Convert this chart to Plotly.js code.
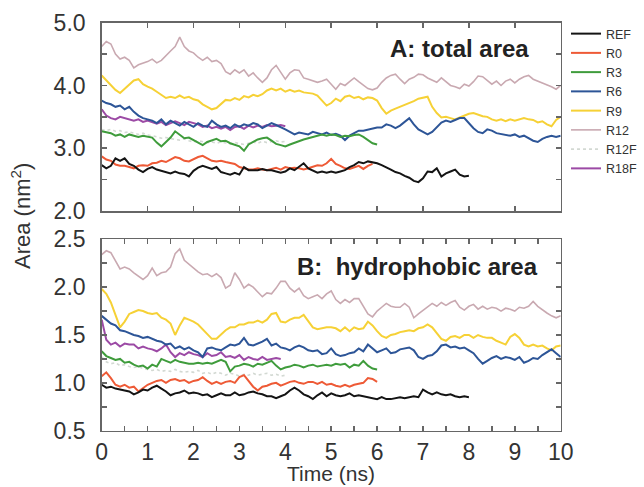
<!DOCTYPE html>
<html>
<head>
<meta charset="utf-8">
<script src="https://cdn.plot.ly/plotly-3.0.1.min.js"></script>
<style>html,body{margin:0;padding:0;background:#fff;}#chart{width:644px;height:487px;}</style>
</head>
<body>
<div id="chart"></div>
<script>
// Shared time grid (ns)
const time = [0.0,0.1,0.2,0.3,0.4,0.5,0.6,0.7,0.8,0.9,1.0,1.1,1.2,1.3,1.4,1.5,1.6,1.7,1.8,1.9,2.0,2.1,2.2,2.3,2.4,2.5,2.6,2.7,2.8,2.9,3.0,3.1,3.2,3.3,3.4,3.5,3.6,3.7,3.8,3.9,4.0,4.1,4.2,4.3,4.4,4.5,4.6,4.7,4.8,4.9,5.0,5.1,5.2,5.3,5.4,5.5,5.6,5.7,5.8,5.9,6.0,6.1,6.2,6.3,6.4,6.5,6.6,6.7,6.8,6.9,7.0,7.1,7.2,7.3,7.4,7.5,7.6,7.7,7.8,7.9,8.0,8.1,8.2,8.3,8.4,8.5,8.6,8.7,8.8,8.9,9.0,9.1,9.2,9.3,9.4,9.5,9.6,9.7,9.8,9.9,10.0];

const seriesNames = ["REF","R0","R3","R6","R9","R12","R12F","R18F"];

// Panel A: total area (nm^2)
const totalREF = [2.73,2.68,2.72,2.84,2.80,2.84,2.75,2.72,2.66,2.62,2.67,2.70,2.66,2.64,2.62,2.60,2.63,2.60,2.59,2.55,2.64,2.69,2.72,2.69,2.67,2.70,2.62,2.60,2.58,2.61,2.58,2.70,2.65,2.65,2.65,2.67,2.65,2.65,2.63,2.61,2.63,2.68,2.65,2.70,2.76,2.68,2.64,2.61,2.63,2.61,2.63,2.61,2.63,2.65,2.70,2.73,2.78,2.76,2.79,2.78,2.76,2.73,2.70,2.66,2.62,2.60,2.56,2.53,2.48,2.46,2.52,2.63,2.62,2.68,2.55,2.60,2.63,2.66,2.58,2.55,2.56];
const totalR0 = [2.87,2.82,2.80,2.74,2.72,2.72,2.70,2.68,2.72,2.73,2.72,2.76,2.77,2.80,2.78,2.82,2.86,2.84,2.80,2.79,2.83,2.86,2.88,2.84,2.80,2.79,2.80,2.78,2.77,2.75,2.70,2.68,2.66,2.66,2.68,2.66,2.65,2.67,2.69,2.66,2.70,2.68,2.69,2.68,2.66,2.68,2.71,2.73,2.72,2.76,2.83,2.75,2.72,2.68,2.67,2.70,2.72,2.67,2.72,2.75];
const totalR3 = [3.27,3.25,3.24,3.20,3.22,3.18,3.22,3.20,3.18,3.20,3.19,3.17,3.09,3.03,3.10,3.17,3.27,3.22,3.16,3.17,3.13,3.08,3.05,3.10,3.13,3.15,3.11,3.12,3.08,3.05,3.03,2.96,3.06,3.10,3.14,3.16,3.17,3.12,3.07,3.05,3.03,3.06,3.09,3.11,3.14,3.16,3.18,3.19,3.22,3.20,3.22,3.21,3.18,3.20,3.19,3.21,3.22,3.18,3.13,3.08,3.06];
const totalR6 = [3.76,3.72,3.70,3.66,3.68,3.62,3.66,3.58,3.52,3.48,3.46,3.44,3.40,3.46,3.38,3.44,3.40,3.36,3.42,3.38,3.34,3.40,3.36,3.34,3.44,3.38,3.34,3.36,3.32,3.38,3.34,3.38,3.36,3.40,3.38,3.32,3.36,3.40,3.37,3.34,3.30,3.26,3.22,3.25,3.23,3.22,3.26,3.24,3.22,3.25,3.21,3.23,3.20,3.13,3.20,3.24,3.28,3.28,3.30,3.32,3.33,3.33,3.38,3.36,3.32,3.36,3.42,3.48,3.38,3.30,3.26,3.22,3.26,3.34,3.41,3.44,3.42,3.45,3.48,3.48,3.40,3.32,3.26,3.24,3.30,3.28,3.24,3.23,3.22,3.20,3.22,3.18,3.20,3.16,3.12,3.10,3.15,3.18,3.20,3.18,3.20];
const totalR9 = [4.16,4.08,4.00,3.93,3.88,3.95,4.02,4.08,4.10,4.02,3.98,3.95,3.90,3.85,3.80,3.82,3.80,3.84,3.80,3.82,3.78,3.76,3.70,3.66,3.62,3.64,3.70,3.77,3.76,3.80,3.77,3.83,3.81,3.85,3.83,3.86,3.92,3.95,3.92,3.95,3.90,3.93,3.90,3.92,3.89,3.88,3.87,3.84,3.76,3.68,3.72,3.79,3.75,3.82,3.84,3.80,3.82,3.78,3.81,3.80,3.76,3.64,3.55,3.60,3.63,3.66,3.68,3.72,3.75,3.79,3.81,3.82,3.66,3.56,3.49,3.50,3.48,3.46,3.49,3.52,3.55,3.56,3.53,3.51,3.50,3.46,3.44,3.46,3.43,3.46,3.44,3.46,3.48,3.46,3.45,3.41,3.43,3.38,3.35,3.45,3.50];
const totalR12 = [4.62,4.70,4.66,4.50,4.42,4.45,4.40,4.28,4.33,4.35,4.38,4.42,4.36,4.40,4.48,4.55,4.62,4.77,4.62,4.55,4.52,4.45,4.40,4.45,4.38,4.40,4.35,4.22,4.18,4.25,4.20,4.25,4.15,4.20,4.12,4.05,4.12,4.25,4.32,4.22,4.10,4.20,4.25,4.24,4.12,4.10,4.08,4.05,4.07,4.10,4.02,3.94,4.03,4.00,4.06,4.12,4.06,4.00,3.95,3.93,3.96,4.05,4.12,4.16,4.18,4.10,4.03,4.10,4.13,4.18,4.17,4.12,4.08,4.05,4.12,4.06,4.00,3.98,3.95,4.02,3.99,4.06,4.15,4.14,4.08,4.02,4.07,4.00,4.07,4.10,4.04,4.10,4.14,4.16,4.10,4.07,4.04,4.02,3.98,3.94,4.00];
const totalR12F = [3.30,3.28,3.30,3.27,3.28,3.25,3.26,3.24,3.22,3.24,3.21,3.20,3.18,3.16,3.17,3.15,3.14,3.13,3.15,3.12,3.10,3.12,3.11,3.09,3.10,3.08,3.10,3.09,3.07,3.09,3.08,3.06,3.08,3.10,3.08,3.11,3.09,3.10,3.12,3.10,3.11];
const totalR18F = [3.62,3.52,3.48,3.46,3.50,3.48,3.47,3.44,3.46,3.42,3.44,3.41,3.39,3.42,3.37,3.40,3.43,3.40,3.37,3.42,3.40,3.38,3.34,3.36,3.32,3.34,3.31,3.34,3.29,3.34,3.35,3.31,3.36,3.33,3.36,3.34,3.37,3.35,3.36,3.37,3.35];

// Panel B: hydrophobic area (nm^2)
const hydroREF = [0.98,0.95,0.96,0.94,0.93,0.92,0.91,0.88,0.90,0.93,0.92,0.95,0.97,0.94,0.91,0.87,0.89,0.90,0.92,0.89,0.90,0.89,0.87,0.88,0.85,0.87,0.89,0.87,0.87,0.90,0.87,0.88,0.90,0.91,0.89,0.88,0.86,0.86,0.84,0.86,0.88,0.92,0.95,0.92,0.88,0.86,0.83,0.87,0.90,0.86,0.89,0.87,0.86,0.87,0.89,0.86,0.87,0.86,0.85,0.84,0.83,0.85,0.83,0.83,0.84,0.85,0.84,0.85,0.86,0.85,0.93,0.90,0.88,0.90,0.88,0.87,0.88,0.86,0.85,0.86,0.85];
const hydroR0 = [1.07,1.11,1.05,0.98,0.96,0.98,0.95,0.96,0.91,0.95,0.98,1.00,1.02,1.03,1.00,1.03,1.04,1.02,1.03,1.00,1.02,1.03,1.06,1.02,0.99,1.01,0.99,1.01,1.02,1.00,1.06,1.08,1.02,0.96,0.92,0.96,0.97,0.99,1.00,0.97,0.99,1.01,1.02,1.00,0.99,1.01,1.01,0.99,1.01,0.98,0.99,0.97,0.96,0.98,0.96,0.98,0.99,1.00,1.05,1.04,1.01];
const hydroR3 = [1.33,1.28,1.26,1.24,1.25,1.21,1.22,1.19,1.17,1.18,1.15,1.19,1.17,1.25,1.23,1.21,1.24,1.22,1.21,1.20,1.20,1.21,1.20,1.21,1.20,1.22,1.24,1.22,1.12,1.17,1.18,1.20,1.19,1.17,1.20,1.19,1.21,1.23,1.18,1.14,1.16,1.17,1.19,1.18,1.16,1.18,1.19,1.17,1.18,1.19,1.18,1.20,1.19,1.20,1.16,1.19,1.18,1.23,1.18,1.15,1.14];
const hydroR6 = [1.70,1.66,1.62,1.60,1.55,1.54,1.52,1.50,1.49,1.47,1.48,1.46,1.44,1.43,1.40,1.41,1.36,1.38,1.35,1.37,1.34,1.32,1.27,1.36,1.37,1.35,1.34,1.37,1.40,1.39,1.41,1.47,1.40,1.39,1.41,1.43,1.46,1.39,1.41,1.37,1.36,1.34,1.37,1.39,1.37,1.34,1.33,1.34,1.30,1.31,1.36,1.30,1.28,1.29,1.31,1.32,1.36,1.33,1.40,1.36,1.32,1.34,1.36,1.31,1.32,1.35,1.36,1.37,1.34,1.27,1.25,1.28,1.29,1.33,1.39,1.40,1.37,1.38,1.36,1.37,1.34,1.31,1.25,1.20,1.23,1.26,1.28,1.25,1.27,1.26,1.24,1.27,1.21,1.23,1.26,1.25,1.29,1.32,1.35,1.31,1.27];
const hydroR9 = [1.98,1.93,1.84,1.71,1.58,1.64,1.72,1.74,1.76,1.75,1.73,1.72,1.73,1.68,1.66,1.62,1.50,1.60,1.68,1.66,1.64,1.61,1.56,1.52,1.46,1.46,1.51,1.55,1.58,1.58,1.61,1.61,1.63,1.63,1.65,1.63,1.66,1.72,1.73,1.64,1.63,1.66,1.68,1.68,1.71,1.64,1.58,1.56,1.57,1.58,1.58,1.57,1.54,1.58,1.54,1.58,1.56,1.57,1.64,1.60,1.54,1.49,1.47,1.50,1.51,1.53,1.54,1.55,1.54,1.57,1.58,1.61,1.58,1.52,1.46,1.44,1.48,1.49,1.47,1.50,1.50,1.47,1.50,1.48,1.47,1.47,1.44,1.42,1.40,1.48,1.51,1.47,1.40,1.38,1.40,1.38,1.39,1.36,1.34,1.38,1.39];
const hydroR12 = [2.34,2.38,2.36,2.27,2.19,2.21,2.19,2.15,2.11,2.08,2.12,2.20,2.12,2.15,2.16,2.21,2.35,2.40,2.28,2.24,2.19,2.16,2.13,2.14,2.11,2.14,2.10,1.99,2.02,2.15,2.08,1.99,2.03,2.00,1.95,1.90,1.94,1.93,1.99,2.06,2.06,1.99,1.95,1.99,1.91,1.88,1.90,1.92,1.88,1.93,1.96,1.87,1.83,1.87,1.84,1.88,1.88,1.80,1.72,1.69,1.75,1.79,1.83,1.80,1.79,1.79,1.83,1.79,1.68,1.72,1.76,1.80,1.83,1.80,1.84,1.81,1.84,1.86,1.79,1.76,1.80,1.82,1.77,1.80,1.77,1.79,1.78,1.75,1.78,1.77,1.75,1.79,1.78,1.80,1.85,1.80,1.76,1.73,1.70,1.68,1.70];
const hydroR12F = [1.27,1.22,1.20,1.21,1.18,1.19,1.17,1.16,1.17,1.15,1.14,1.13,1.14,1.12,1.13,1.12,1.14,1.12,1.11,1.12,1.11,1.13,1.10,1.11,1.09,1.11,1.10,1.08,1.10,1.09,1.07,1.09,1.08,1.10,1.08,1.09,1.10,1.08,1.09,1.07,1.08];
const hydroR18F = [1.66,1.45,1.40,1.42,1.38,1.41,1.40,1.40,1.36,1.38,1.36,1.35,1.33,1.36,1.40,1.32,1.27,1.31,1.29,1.32,1.30,1.29,1.27,1.31,1.28,1.29,1.32,1.27,1.28,1.26,1.29,1.24,1.27,1.25,1.24,1.27,1.24,1.25,1.26,1.25];

// Tick labels
const xTickVals = [0,0.5,1,1.5,2,2.5,3,3.5,4,4.5,5,5.5,6,6.5,7,7.5,8,8.5,9,9.5,10];
const xTickText = ["0","","1","","2","","3","","4","","5","","6","","7","","8","","9","","10"];
const yTopVals = [2,2.5,3,3.5,4,4.5,5];
const yTopText = ["2.0","","3.0","","4.0","","5.0"];
const yBotVals = [0.5,0.75,1,1.25,1.5,1.75,2,2.25,2.5];
const yBotText = ["0.5","","1.0","","1.5","","2.0","","2.5"];

const colors = {
  REF: "#141414", R0: "#ee5a36", R3: "#3f9c3c", R6: "#2d5597",
  R9: "#f6d136", R12: "#c9a9b1", R12F: "#d3d9d3", R18F: "#9c4aa5"
};
const widths = {REF:2, R0:2, R3:2, R6:2, R9:2, R12:1.6, R12F:1.6, R18F:2};

const topData = {REF:totalREF, R0:totalR0, R3:totalR3, R6:totalR6, R9:totalR9, R12:totalR12, R12F:totalR12F, R18F:totalR18F};
const botData = {REF:hydroREF, R0:hydroR0, R3:hydroR3, R6:hydroR6, R9:hydroR9, R12:hydroR12, R12F:hydroR12F, R18F:hydroR18F};

// draw order: light ones first so the darker lines sit on top
const drawOrder = ["R12F","R12","R9","R18F","R6","R3","R0","REF"];
const traces = [];
drawOrder.forEach(n => {
  const line = {color: colors[n], width: widths[n]};
  if (n === "R12F") line.dash = "dot";
  traces.push({x: time.slice(0, topData[n].length), y: topData[n], xaxis:"x", yaxis:"y",
    mode:"lines", name:n, legendgroup:n, showlegend:true, line: line,
    legendrank: seriesNames.indexOf(n)+1});
  traces.push({x: time.slice(0, botData[n].length), y: botData[n], xaxis:"x2", yaxis:"y2",
    mode:"lines", name:n, legendgroup:n, showlegend:false, line: line});
});

const W = 644, H = 487;
const FONT = "Liberation Sans, Arial, sans-serif";
const xDom = [101.7/W, 560.7/W];
const axCommon = {
  showline:true, mirror:"ticks", linecolor:"#666", linewidth:1.5,
  ticks:"inside", ticklen:5, tickcolor:"#666", tickwidth:1.5,
  showgrid:false, zeroline:false,
  tickfont:{family:FONT, size:23, color:"#333"}
};

const layout = {
  width: W, height: H,
  margin: {l:0, r:0, t:0, b:0},
  paper_bgcolor:"#fff", plot_bgcolor:"#fff",
  font: {family:FONT, color:"#333"},
  showlegend: true,
  legend: {x: 566/W, y: 1 - 19/H, xanchor:"left", yanchor:"top",
    font:{size:12.5, color:"#333", family:FONT},
    bgcolor:"rgba(0,0,0,0)", traceorder:"normal", tracegroupgap:0},
  xaxis: Object.assign({}, axCommon, {domain:xDom, anchor:"y", range:[0,10],
    tickvals:[0,1,2,3,4,5,6,7,8,9,10], showticklabels:false}),
  yaxis: Object.assign({}, axCommon, {domain:[(H-211)/H, (H-22.7)/H], anchor:"x", range:[2,5],
    tickvals:yTopVals, ticktext:yTopText, ticklabelstandoff:10}),
  xaxis2: Object.assign({}, axCommon, {domain:xDom, anchor:"y2", range:[0,10],
    tickvals:xTickVals, ticktext:xTickText, ticklabelstandoff:0}),
  yaxis2: Object.assign({}, axCommon, {domain:[(H-430.7)/H, (H-239.3)/H], anchor:"x2", range:[0.5,2.5],
    tickvals:yBotVals, ticktext:yBotText, ticklabelstandoff:10}),
  annotations: [
    {text:"<b>A: total area</b>", xref:"paper", yref:"paper", x:388/W, y:1-48/H,
     xanchor:"left", yanchor:"middle", showarrow:false,
     font:{size:24, color:"#222", family:FONT}},
    {text:"<b>B:  hydrophobic area</b>", xref:"paper", yref:"paper", x:295/W, y:1-266/H,
     xanchor:"left", yanchor:"middle", showarrow:false,
     font:{size:24, color:"#222", family:FONT}},
    {text:"Area (nm<sup>2</sup>)", xref:"paper", yref:"paper", x:21/W, y:1-216/H,
     xanchor:"center", yanchor:"middle", textangle:-90, showarrow:false,
     font:{size:22, color:"#333", family:FONT}},
    {text:"Time (ns)", xref:"paper", yref:"paper", x:331/W, y:1-473/H,
     xanchor:"center", yanchor:"middle", showarrow:false,
     font:{size:21, color:"#333", family:FONT}}
  ]
};

Plotly.newPlot("chart", traces, layout, {displayModeBar:false, staticPlot:true});
</script>
</body>
</html>
